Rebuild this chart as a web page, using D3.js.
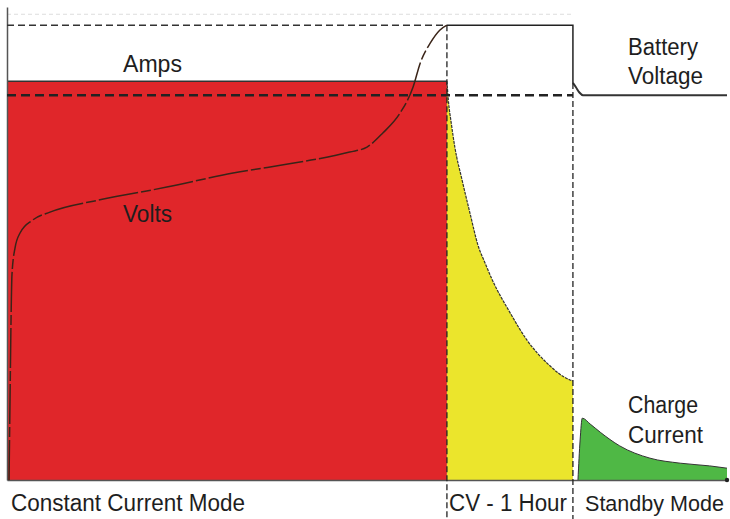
<!DOCTYPE html>
<html>
<head>
<meta charset="utf-8">
<script src="https://cdn.jsdelivr.net/npm/d3@7"></script>
<style>
  body { margin: 0; background: #fff; }
  text { font-family: "Liberation Sans", Arial, sans-serif; fill: #1e1e1e; }
</style>
</head>
<body>
<div id="chart"></div>
<script>
// phase boundaries (percent of time axis)
var phaseEnds = [61.1, 78.6, 100];
var phaseLabels = ["Constant Current Mode", "CV - 1 Hour", "Standby Mode"];

// levels (percent of peak voltage)
var ampsLevel = 87.7;
var floatLevel = 84.6;
var peakLevel = 100;
var faintLevel = 102.4;

// volts curve during constant current
var voltsX = [0.28, 0.42, 0.56, 0.69, 1.11, 1.81, 3.61, 5.97, 12.9, 22.2, 31.4, 40.7, 47.6, 50.0, 52.2, 54.6, 56.4, 57.4, 58.8, 60.1, 61.1];
var voltsY = [0, 17.6, 35.2, 45.1, 51.0, 54.3, 57.2, 58.9, 61.6, 64.4, 67.5, 69.9, 72.1, 73.2, 76.3, 80.7, 86.4, 91.7, 96.1, 98.9, 100];

// amps decay during CV phase
var cvX = [61.1, 61.3, 61.7, 62.2, 63.2, 64.3, 65.4, 66.4, 67.4, 69.9, 72.2, 75.0, 78.2, 78.6];
var cvY = [87.7, 83.5, 78.5, 73.2, 66.0, 58.7, 51.7, 47.7, 44.0, 36.7, 30.8, 25.7, 22.0, 21.8];

// charge current in standby
var sbX = [79.3, 79.6, 79.9, 81.0, 82.4, 85.1, 89.3, 93.5, 97.6, 100];
var sbY = [0, 8.8, 13.6, 12.3, 10.5, 7.5, 4.8, 3.7, 3.1, 2.6];

// battery voltage after CV
var bvX = [78.6, 78.6, 79.0, 79.5, 80.0, 100];
var bvY = [100, 87.3, 86.4, 85.2, 84.6, 84.6];

var svgWidth = 730;
var svgHeight = 519;

var svg = d3.select("#chart")
    .append("svg")
    .attr("width", svgWidth)
    .attr("height", svgHeight);

var x = d3.scaleLinear().domain([0, 100]).range([7, 727]);
var y = d3.scaleLinear().domain([0, 104]).range([480, 7]);

var zip = (xs, ys) => xs.map((v, i) => [v, ys[i]]);

var area = d3.area()
    .x(d => x(d[0]))
    .y0(y(0))
    .y1(d => y(d[1]))
    .curve(d3.curveMonotoneX);

var line = d3.line()
    .x(d => x(d[0]))
    .y(d => y(d[1]))
    .curve(d3.curveMonotoneX);

var straight = d3.line()
    .x(d => x(d[0]))
    .y(d => y(d[1]));

// faint top line
svg.append("path")
    .attr("d", straight([[0, faintLevel], [phaseEnds[1], faintLevel]]))
    .attr("fill", "none")
    .attr("stroke", "#ddd")
    .attr("stroke-width", 1)
    .attr("stroke-dasharray", "4,3");

// red constant current block
var ccData = [[0, ampsLevel], [phaseEnds[0], ampsLevel]];
svg.append("path")
    .attr("d", d3.area().x(d => x(d[0])).y0(y(0)).y1(d => y(d[1]))(ccData))
    .attr("fill", "#e0262a");
svg.append("path")
    .attr("d", straight(ccData))
    .attr("fill", "none")
    .attr("stroke", "#333")
    .attr("stroke-width", 1.5);

// yellow CV block
var cvData = zip(cvX, cvY);
svg.append("path")
    .attr("d", area(cvData))
    .attr("fill", "#ebe52c");
svg.append("path")
    .attr("d", line(cvData))
    .attr("fill", "none")
    .attr("stroke", "#333")
    .attr("stroke-width", 1.2)
    .attr("stroke-dasharray", "3,1");

// green standby
var sbData = zip(sbX, sbY);
svg.append("path")
    .attr("d", area(sbData))
    .attr("fill", "#4fb845");
svg.append("path")
    .attr("d", line(sbData))
    .attr("fill", "none")
    .attr("stroke", "#333")
    .attr("stroke-width", 1);

// axes (lines only)
svg.append("g")
    .attr("transform", `translate(0, ${y(0)})`)
    .call(d3.axisBottom(x).tickValues([]).tickSizeOuter(0))
    .select(".domain").attr("stroke", "#555").attr("stroke-width", 1.5);

svg.append("g")
    .attr("transform", `translate(${x(0)}, 0)`)
    .call(d3.axisLeft(y).tickValues([]).tickSizeOuter(0))
    .select(".domain").attr("stroke", "#555").attr("stroke-width", 1.5);

svg.append("circle")
    .attr("cx", x(100))
    .attr("cy", y(0))
    .attr("r", 2.2)
    .attr("fill", "#222");

// peak voltage dashed and CV solid top
svg.append("path")
    .attr("d", straight([[0, peakLevel], [phaseEnds[0], peakLevel]]))
    .attr("fill", "none")
    .attr("stroke", "#333")
    .attr("stroke-width", 1.5)
    .attr("stroke-dasharray", "7,4");

svg.append("path")
    .attr("d", straight([[phaseEnds[0], peakLevel], [phaseEnds[1], peakLevel], [phaseEnds[1], bvY[1]]]))
    .attr("fill", "none")
    .attr("stroke", "#222")
    .attr("stroke-width", 1.5);

// float voltage dashed
svg.append("path")
    .attr("d", straight([[0, floatLevel], [phaseEnds[1], floatLevel]]))
    .attr("fill", "none")
    .attr("stroke", "#222")
    .attr("stroke-width", 2.5)
    .attr("stroke-dasharray", "9,5");

// battery voltage after CV
svg.append("path")
    .attr("d", line(zip(bvX, bvY).slice(1)))
    .attr("fill", "none")
    .attr("stroke", "#333")
    .attr("stroke-width", 2);

// phase dividers
[phaseEnds[0], phaseEnds[1]].forEach(function(p, i) {
    svg.append("line")
        .attr("x1", x(p)).attr("x2", x(p))
        .attr("y1", i === 0 ? y(peakLevel) : y(bvY[1]))
        .attr("y2", svgHeight)
        .attr("stroke", "#222")
        .attr("stroke-width", 1.3)
        .attr("stroke-dasharray", "6,3");
});

// volts curve
svg.append("path")
    .attr("d", line(zip(voltsX, voltsY)))
    .attr("fill", "none")
    .attr("stroke", "#3a2418")
    .attr("stroke-width", 1.5)
    .attr("stroke-dasharray", "40,3,10,3");

// labels
function label(txt, px, py, len, size) {
    var t = svg.append("text")
        .attr("x", px)
        .attr("y", py)
        .attr("font-size", (size || 23) + "px")
        .text(txt);
    if (len) t.attr("textLength", len).attr("lengthAdjust", "spacingAndGlyphs");
}

label("Amps", 123, 72, 59);
label("Volts", 123, 222, 49);
label("Battery", 628, 55, 70);
label("Voltage", 628, 84, 75);
label("Charge", 628, 413, 70);
label("Current", 628, 443, 75);

var labelStarts = [11, 449, 585];
var labelWidths = [234, 118, 139];
var labelSizes = [23, 23, 21.5];
phaseLabels.forEach(function(t, i) {
    label(t, labelStarts[i], 511, labelWidths[i], labelSizes[i]);
});
</script>
</body>
</html>
